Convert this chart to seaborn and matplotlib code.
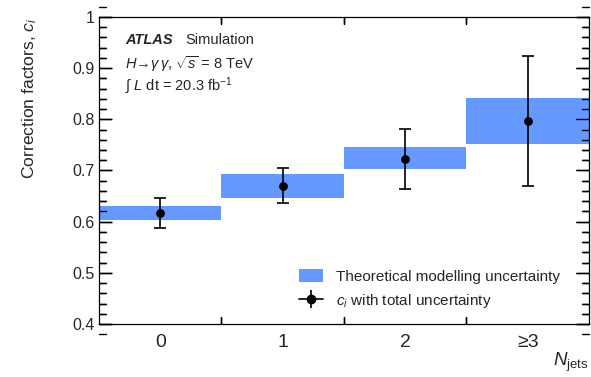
import numpy as np
import pandas as pd
import seaborn as sns
import matplotlib.pyplot as plt
from matplotlib.patches import Patch
from matplotlib.lines import Line2D
from matplotlib.ticker import FixedLocator, MultipleLocator, FixedFormatter

# Values
bins = ["0", "1", "2", "≥3"]
c_val = [0.617, 0.670, 0.723, 0.797]
c_err_up = [0.029, 0.034, 0.059, 0.126]
c_err_dn = [0.030, 0.034, 0.060, 0.127]
theo_lo = [0.603, 0.646, 0.702, 0.752]
theo_hi = [0.630, 0.694, 0.745, 0.841]
y_ticks = [0.4, 0.5, 0.6, 0.7, 0.8, 0.9, 1.0]
y_ticklabels = ["0.4", "0.5", "0.6", "0.7", "0.8", "0.9", "1"]
x_edges = [0.5, 1.5, 2.5]

df = pd.DataFrame({"bin": bins, "c": c_val,
                   "up": c_err_up, "dn": c_err_dn,
                   "lo": theo_lo, "hi": theo_hi})
df["x"] = np.arange(len(df))

sns.set_style("ticks")
plt.rcParams["font.family"] = ["Liberation Sans", "DejaVu Sans"]
plt.rcParams["mathtext.fontset"] = "custom"
plt.rcParams["mathtext.rm"] = "Liberation Sans"
plt.rcParams["mathtext.it"] = "Liberation Sans:italic"
plt.rcParams["mathtext.bf"] = "Liberation Sans:bold"

blue = "#6699ff"

fig = plt.figure(figsize=(5.91, 3.77), dpi=100)
ax = fig.add_axes([0.1675, 0.1406, 0.829, 0.8144])

# theory uncertainty bands
ax.bar(df["x"], df["hi"] - df["lo"], bottom=df["lo"], width=1.0,
       color=blue, edgecolor="none", linewidth=0)

# points with total uncertainty
ax.errorbar(df["x"], df["c"], yerr=[df["dn"], df["up"]], fmt="none",
            ecolor="black", elinewidth=1.2, capsize=4.5, capthick=1.2)
sns.scatterplot(data=df, x="x", y="c", color="black", s=40,
                edgecolor="black", linewidth=0, zorder=5, ax=ax)

ax.set_xlim(-0.5, 3.5)
ax.set_ylim(0.4, 1.0)

ax.xaxis.set_major_locator(FixedLocator(df["x"].tolist()))
ax.xaxis.set_major_formatter(FixedFormatter(bins))
ax.xaxis.set_minor_locator(FixedLocator(x_edges))
ax.yaxis.set_major_locator(FixedLocator(y_ticks))
ax.yaxis.set_major_formatter(FixedFormatter(y_ticklabels))
ax.yaxis.set_minor_locator(MultipleLocator(0.02))

for s in ax.spines.values():
    s.set_linewidth(0.9)
    s.set_color("black")

ax.tick_params(axis="both", which="both", direction="in", top=True, right=True,
               width=1.0, color="black")
ax.tick_params(axis="y", which="major", length=9, labelsize=11.5, pad=3)
ax.tick_params(axis="y", which="minor", length=5)
ax.tick_params(axis="x", which="minor", length=5)
ax.tick_params(axis="x", which="major", length=0, labelsize=14, pad=7)

# inward tick marks drawn on the frame from the locator positions
# (lengths in axes fractions: 9 pt and 5 pt at this axes size)
ytr = ax.get_yaxis_transform()
xtr = ax.get_xaxis_transform()
y_minor = ax.yaxis.get_minorticklocs()
for yv in y_ticks:
    for x0, x1 in [(0, 0.0255), (1, 1 - 0.0255)]:
        ax.add_line(Line2D([x0, x1], [yv, yv], transform=ytr, color="black",
                           lw=1.0, clip_on=False, zorder=10))
for yv in y_minor:
    for x0, x1 in [(0, 0.0142), (1, 1 - 0.0142)]:
        ax.add_line(Line2D([x0, x1], [yv, yv], transform=ytr, color="black",
                           lw=1.0, clip_on=False, zorder=10))
for xv in x_edges:
    for y0, y1 in [(0, 0.0226), (1, 1 - 0.0226)]:
        ax.add_line(Line2D([xv, xv], [y0, y1], transform=xtr, color="black",
                           lw=1.0, clip_on=False, zorder=10))

ax.set_xlabel(r"$N_{\mathrm{jets}}$", loc="right", fontsize=13.5, labelpad=0)
ax.set_ylabel(r"Correction factors, $c_i$", loc="top", fontsize=12.6, labelpad=24)

ax.text(0.053, 0.912, "ATLAS", transform=ax.transAxes, fontsize=10.5,
        fontweight="bold", fontstyle="italic")
ax.text(0.177, 0.912, "Simulation", transform=ax.transAxes, fontsize=10.5)
ax.text(0.053, 0.83, r"$H\!\rightarrow\!\gamma\,\gamma$, $\sqrt{s}$ = 8 TeV",
        transform=ax.transAxes, fontsize=10.5)
ax.text(0.053, 0.762, r"$\int$ $L$ dt = 20.3 fb$^{-1}$",
        transform=ax.transAxes, fontsize=10.5)

# legend handle for the points: marker with horizontal and vertical bars
pt_h = Line2D([], [], color="black", marker="o", markersize=6,
              linestyle="-", linewidth=1.2)
pt_v = Line2D([], [], color="black", marker="|", markersize=13,
              markeredgewidth=1.2, linestyle="none")
ax.legend([Patch(facecolor=blue, edgecolor="none"), (pt_h, pt_v)],
          ["Theoretical modelling uncertainty", r"$c_i$ with total uncertainty"],
          loc="lower left", bbox_to_anchor=(0.38, 0.0), frameon=False,
          fontsize=11, handlelength=1.6, handleheight=0.9, handletextpad=0.8,
          labelspacing=0.55)

fig.savefig("out.png", dpi=100)
